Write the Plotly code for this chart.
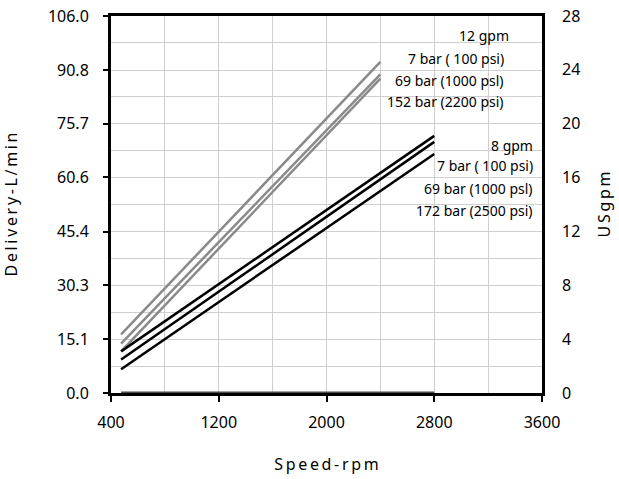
import plotly.graph_objects as go

# Speeds (rpm) at line ends
speed_12 = [475, 2400]
speed_8 = [475, 2800]
# Delivery L/min, 12 gpm pump
d12_7bar = [16.5, 93.1]
d12_69bar = [13.9, 89.6]
d12_152bar = [11.7, 88.4]
# Delivery L/min, 8 gpm pump
d8_7bar = [11.7, 72.3]
d8_69bar = [9.4, 70.6]
d8_172bar = [6.7, 67.2]
baseline_speed = [475, 2800]
baseline_val = [0, 0]

left_ticks = [0.0, 15.1, 30.3, 45.4, 60.6, 75.7, 90.8, 106.0]
right_ticks = [0, 4, 8, 12, 16, 20, 24, 28]
x_ticks = [400, 1200, 2000, 2800, 3600]

labels_12 = ["12 gpm", "7 bar ( 100 psi)", "69 bar (1000 psl)", "152 bar (2200 psi)"]
labels_8 = ["8 gpm", "7 bar ( 100 psi)", "69 bar (1000 psl)", "172 bar (2500 psi)"]

FONT = "Noto Sans"
GRAY = "#8a8a8a"

fig = go.Figure()
fig.add_trace(go.Scatter(x=baseline_speed, y=baseline_val, mode="lines",
                         line=dict(color="#4a4a4a", width=3), showlegend=False))
for y in [d12_7bar, d12_69bar, d12_152bar]:
    fig.add_trace(go.Scatter(x=speed_12, y=y, mode="lines",
                             line=dict(color=GRAY, width=2.5), showlegend=False))
for y in [d8_7bar, d8_69bar, d8_172bar]:
    fig.add_trace(go.Scatter(x=speed_8, y=y, mode="lines",
                             line=dict(color="black", width=2.5), showlegend=False))
# invisible trace for right axis
fig.add_trace(go.Scatter(x=[400], y=[0], yaxis="y2", mode="markers",
                         marker=dict(opacity=0), showlegend=False, hoverinfo="skip"))

sp = "\u2009"
fig.update_layout(
    width=619, height=479,
    margin=dict(l=111, r=77, t=16, b=86),
    paper_bgcolor="white", plot_bgcolor="white",
    font=dict(family=FONT, size=16, color="black"),
    xaxis=dict(range=[400, 3600], tickvals=x_ticks, ticks="outside", ticklen=6, tickwidth=2,
               tickcolor="black", showline=True, linecolor="black", linewidth=3, mirror=True,
               showgrid=True, gridcolor="#cfcfcf", gridwidth=1,
               minor=dict(dtick=400, showgrid=True, gridcolor="#cfcfcf", gridwidth=1),
               zeroline=False, layer="below traces", ticklabelstandoff=7, automargin=False,
               title=dict(text=sp.join("Speed-rpm"), standoff=27, font=dict(size=16))),
    yaxis=dict(range=[0, 106], tickvals=left_ticks, ticktext=[f"{v:.1f}" for v in left_ticks],
               ticks="outside", ticklen=5, tickwidth=2, tickcolor="black",
               showline=True, linecolor="black", linewidth=3, mirror=True,
               showgrid=True, gridcolor="#cfcfcf", gridwidth=1,
               minor=dict(tickvals=[106 / 14 * k for k in range(1, 14, 2)], showgrid=True,
                          gridcolor="#cfcfcf", gridwidth=1),
               zeroline=False, ticklabelstandoff=11, automargin=False,
               ticklabeloverflow="allow",
               title=dict(text=sp.join("Delivery-L/min"), standoff=31, font=dict(size=16))),
    yaxis2=dict(range=[0, 28], tickvals=right_ticks, overlaying="y", side="right",
                showgrid=False, showline=False, zeroline=False, ticks="",
                ticklabelstandoff=19, automargin=False, ticklabeloverflow="allow",
                title=dict(text=sp.join("USgpm"), standoff=19, font=dict(size=16))),
)

ys12 = [0.9488, 0.887, 0.8294, 0.7719]
ys8 = [0.657, 0.604, 0.542, 0.4846]
xs12 = [0.927, 0.9175, 0.9175, 0.9175]
for t, yy, xx in zip(labels_12, ys12, xs12):
    fig.add_annotation(text=t, x=xx, y=yy, xref="paper", yref="paper",
                       xanchor="right", yanchor="middle", showarrow=False,
                       font=dict(size=14, family=FONT))
for t, yy in zip(labels_8, ys8):
    fig.add_annotation(text=t, x=0.984, y=yy, xref="paper", yref="paper",
                       xanchor="right", yanchor="middle", showarrow=False,
                       font=dict(size=14, family=FONT))

fig.write_html("out.html", config={"displayModeBar": False},
               post_script="document.body.style.margin='0';")
